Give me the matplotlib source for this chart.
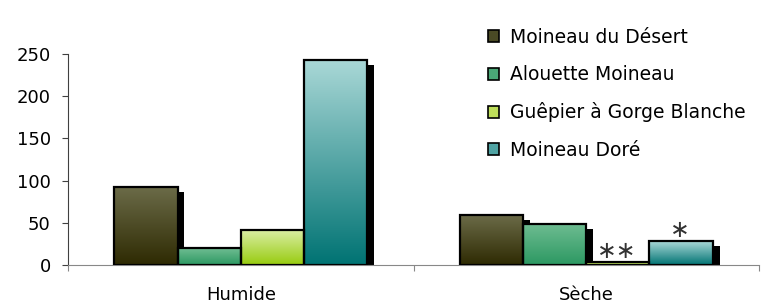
import matplotlib.pyplot as plt
import matplotlib.transforms as mtransforms
from matplotlib.colors import LinearSegmentedColormap
from matplotlib.patches import Patch
import numpy as np

# donnees
categories = ["Humide", "Sèche"]
especes = ["Moineau du Désert", "Alouette Moineau",
           "Guêpier à Gorge Blanche", "Moineau Doré"]
valeurs = [
    [92, 59],    # Moineau du Désert
    [20, 49],    # Alouette Moineau
    [42, 3],     # Guêpier à Gorge Blanche
    [243, 28],   # Moineau Doré
]
etoiles = [["", ""], ["", ""], ["", "\u2217\u2217"], ["", "\u2217"]]

# degrades (haut, bas)
couleurs = [
    ("#6b6b48", "#2e2a02"),
    ("#6fbd92", "#2c9862"),
    ("#dcefa8", "#97cb0e"),
    ("#aad8d7", "#007373"),
]
couleurs_legende = ["#4a4a25", "#4aa877", "#bede5a", "#4fa3a3"]

fig = plt.figure(figsize=(7.68, 3.06), dpi=100)
ax = fig.add_axes([68 / 768, 1 - 265 / 306, (759 - 68) / 768, (265 - 54) / 306])

x = np.arange(len(categories))
w = 0.183

# ombres decalees
ombre = mtransforms.offset_copy(ax.transData, fig=fig, x=5.0, y=-3.6, units="points")
for i in range(len(especes)):
    ax.bar(x + (i - 1.5) * w, valeurs[i], w, color="black", transform=ombre, zorder=1)

# barres avec degrade
grad = np.linspace(1, 0, 256).reshape(-1, 1)
for i in range(len(especes)):
    cmap = LinearSegmentedColormap.from_list("c%d" % i, [couleurs[i][1], couleurs[i][0]])
    barres = ax.bar(x + (i - 1.5) * w, valeurs[i], w, facecolor="none",
                    edgecolor="black", linewidth=1.6, zorder=3)
    for b, v in zip(barres, valeurs[i]):
        x0 = b.get_x()
        im = ax.imshow(grad, cmap=cmap, aspect="auto", zorder=2,
                       extent=(x0, x0 + w, 0, v), vmin=0, vmax=1)
        im.set_clip_path(b)
    for j, s in enumerate(etoiles[i]):
        if s:
            ax.annotate(s, (x[j] + (i - 1.5) * w, valeurs[i][j]), xytext=(-1, 8),
                        textcoords="offset points", ha="center", va="center",
                        fontsize=17, family="DejaVu Sans", color="#333333")

ax.set_xlim(-0.5, 1.5)
ax.set_ylim(0, 250)
ax.set_yticks(range(0, 251, 50))
ax.set_xticks([-0.5, 0.5, 1.5])
ax.set_xticklabels([])
ax.set_xticks(x, minor=True)
ax.set_xticklabels(categories, minor=True)
ax.tick_params(axis="x", which="minor", length=0, pad=15, labelsize=13)
ax.tick_params(axis="x", which="major", length=4.5, color="#888888")
ax.tick_params(axis="y", length=4.5, pad=8, labelsize=13, color="#404040")
ax.spines["top"].set_visible(False)
ax.spines["right"].set_visible(False)
ax.spines["left"].set_color("#404040")
ax.spines["bottom"].set_color("#888888")

poignees = [Patch(facecolor=c, edgecolor="black", linewidth=1.2) for c in couleurs_legende]
fig.legend(poignees, especes, loc="upper left", bbox_to_anchor=(488 / 768, 1 - 28 / 306),
           frameon=False, fontsize=13.5, borderpad=0, borderaxespad=0,
           handlelength=0.6, handleheight=0.6, handletextpad=0.55, labelspacing=0.97)

fig.savefig("out.png", dpi=100)
